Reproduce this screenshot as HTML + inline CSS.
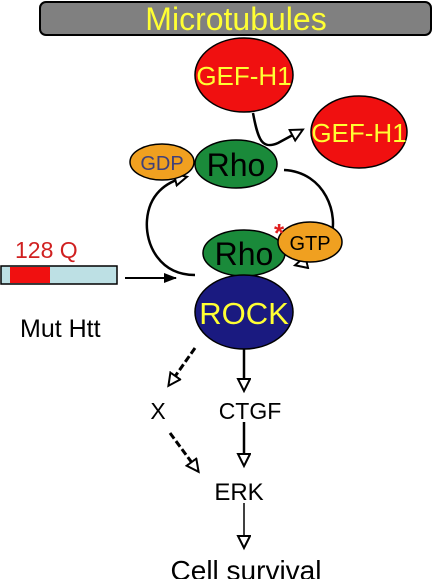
<!DOCTYPE html>
<html><head><meta charset="utf-8"><style>
html,body{margin:0;padding:0;background:#fff;width:435px;height:579px;overflow:hidden}
svg{display:block;font-family:"Liberation Sans",sans-serif}
</style></head><body>
<svg width="435" height="579" viewBox="0 0 435 579">
<defs>
<marker id="open" markerWidth="16" markerHeight="16" refX="12" refY="7" orient="auto" markerUnits="userSpaceOnUse">
<path d="M1,1 L13,7 L1,13 Z" fill="#fff" stroke="#000" stroke-width="2"/></marker>
<marker id="solid" markerWidth="14" markerHeight="14" refX="12" refY="6" orient="auto" markerUnits="userSpaceOnUse">
<path d="M0,1 L13,6 L0,11 Z" fill="#000"/></marker>
</defs>
<g>
<rect x="40" y="2" width="391" height="33" rx="6" fill="#808080" stroke="#000" stroke-width="2"/>
<text x="236" y="30" text-anchor="middle" font-size="32" fill="#ffff33">Microtubules</text></g>
<g>
<ellipse cx="244" cy="75" rx="49" ry="37" fill="#f01010" stroke="#000" stroke-width="1.5"/>
<text x="244" y="85" text-anchor="middle" font-size="26" fill="#ffff33">GEF-H1</text></g>
<g>
<ellipse cx="359" cy="132" rx="48" ry="36" fill="#f01010" stroke="#000" stroke-width="1.5"/>
<text x="359" y="142" text-anchor="middle" font-size="26" fill="#ffff33">GEF-H1</text></g>
<path d="M253,113 C258,140 262,150 278,143 L302,130" fill="none" stroke="#000" stroke-width="2.5" marker-end="url(#open)"/>
<path d="M284,170 C325,172 340,215 330,240 C325,255 315,260 296,265" fill="none" stroke="#000" stroke-width="2.5" marker-end="url(#open)"/>
<path d="M195,275 C160,275 145,245 147,220 C149,195 165,182 186,177" fill="none" stroke="#000" stroke-width="2.5" marker-end="url(#open)"/>
<g>
<ellipse cx="162" cy="162" rx="32" ry="18" fill="#f0a020" stroke="#000" stroke-width="1.5"/>
<text x="162" y="170" text-anchor="middle" font-size="20" fill="#40407a">GDP</text></g>
<g>
<ellipse cx="236" cy="164" rx="41" ry="24" fill="#1a8a3a" stroke="#000" stroke-width="1.5"/>
<text x="236" y="176" text-anchor="middle" font-size="32" fill="#000">Rho</text></g>
<g>
<ellipse cx="244" cy="253" rx="41" ry="23" fill="#1a8a3a" stroke="#000" stroke-width="1.5"/>
<text x="244" y="265" text-anchor="middle" font-size="32" fill="#000">Rho</text></g>
<g>
<ellipse cx="310" cy="242" rx="32" ry="20" fill="#f0a020" stroke="#000" stroke-width="1.5"/>
<text x="310" y="250" text-anchor="middle" font-size="20" fill="#000">GTP</text></g>
<text x="279" y="242" text-anchor="middle" font-size="26" font-weight="bold" fill="#e02020">*</text>
<g>
<ellipse cx="244" cy="312" rx="49" ry="37" fill="#1a1a80" stroke="#000" stroke-width="1.5"/>
<text x="244" y="324" text-anchor="middle" font-size="31" fill="#ffff33">ROCK</text></g>
<text x="15" y="258" font-size="23" fill="#d02020">128 Q</text>
<g>
<rect x="1" y="266" width="116" height="18" fill="#bde0e4" stroke="#000" stroke-width="1.5"/>
<rect x="10" y="267" width="40" height="16" fill="#f01010"/></g>
<path d="M125,278 L176,278" stroke="#000" stroke-width="2" marker-end="url(#solid)"/>
<text x="20" y="337" font-size="25" fill="#000">Mut Htt</text>
<path d="M195,348 L169,385" stroke="#000" stroke-width="3" stroke-dasharray="7,3" fill="none" marker-end="url(#open)"/>
<path d="M244,349 L244,390" stroke="#000" stroke-width="2.5" marker-end="url(#open)"/>
<text x="158" y="419" text-anchor="middle" font-size="23">X</text>
<text x="250" y="419" text-anchor="middle" font-size="23">CTGF</text>
<path d="M170,433 L198,471" stroke="#000" stroke-width="3" stroke-dasharray="7,3" fill="none" marker-end="url(#open)"/>
<path d="M244,422 L244,465" stroke="#000" stroke-width="2.5" marker-end="url(#open)"/>
<text x="239" y="500" text-anchor="middle" font-size="24">ERK</text>
<path d="M244,503 L244,547" stroke="#000" stroke-width="1.5" marker-end="url(#open)"/>
<text x="246" y="580" text-anchor="middle" font-size="28">Cell survival</text>
</svg>
</body></html>
